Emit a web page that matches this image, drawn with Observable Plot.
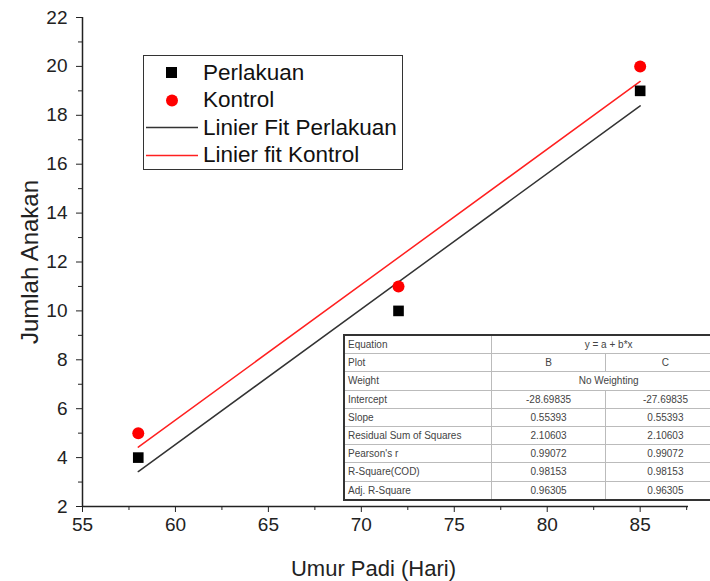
<!DOCTYPE html>
<html><head><meta charset="utf-8">
<script src="https://cdn.jsdelivr.net/npm/d3@7"></script>
<script src="https://cdn.jsdelivr.net/npm/@observablehq/plot@0.6"></script>
<style>
body{margin:0;background:#fff;font-family:"Liberation Sans",Arial,sans-serif;}
#wrap{position:relative;width:710px;height:581px;overflow:hidden;}
#legend{position:absolute;left:143px;top:55px;width:258px;height:113px;border:1.5px solid #333;background:#fff;}
.lrow{position:absolute;left:0;height:27px;display:flex;align-items:center;font-size:22.5px;color:#111;white-space:nowrap;}
.lrow svg{width:58px;height:27px;display:block;flex:none;}
.lrow span{margin-left:1px;}
#tbl{position:absolute;left:343px;top:334px;width:384px;border-collapse:collapse;border:2px solid #333;background:#fff;font-size:10px;color:#444;table-layout:fixed;}
#tbl td{border:1px solid #bbb;height:17.2px;padding:0 3px;white-space:nowrap;line-height:17px;overflow:hidden;}
#tbl td.c{text-align:center;}
</style></head>
<body><div id="wrap"></div>
<script>
const ageDays = [58, 72, 85];
const perlakuan = [4, 10, 19];
const kontrol = [5, 11, 20];
const seriesNames = ["Perlakuan", "Kontrol", "Linier Fit Perlakuan", "Linier fit Kontrol"];
const xTicks = [55, 60, 65, 70, 75, 80, 85];
const xMinor = [57.5, 62.5, 67.5, 72.5, 77.5, 82.5, 87.5];
const yTicks = [2, 4, 6, 8, 10, 12, 14, 16, 18, 20, 22];
const yMinor = [3, 5, 7, 9, 11, 13, 15, 17, 19, 21];
const xLabel = "Umur Padi (Hari)";
const yLabel = "Jumlah Anakan";
const tableRows = [
  ["Equation", "y = a + b*x", null],
  ["Plot", "B", "C"],
  ["Weight", "No Weighting", null],
  ["Intercept", "-28.69835", "-27.69835"],
  ["Slope", "0.55393", "0.55393"],
  ["Residual Sum of Squares", "2.10603", "2.10603"],
  ["Pearson's r", "0.99072", "0.99072"],
  ["R-Square(COD)", "0.98153", "0.98153"],
  ["Adj. R-Square", "0.96305", "0.96305"]
];

const pts = ageDays.flatMap((d, i) => [
  {x: d, y: perlakuan[i], s: seriesNames[0]},
  {x: d, y: kontrol[i], s: seriesNames[1]}
]);
const P = pts.filter(d => d.s === seriesNames[0]);
const K = pts.filter(d => d.s === seriesNames[1]);
const font = "'Liberation Sans', Arial, sans-serif";

const chart = Plot.plot({
  width: 710, height: 581,
  marginLeft: 82, marginTop: 17, marginBottom: 75, marginRight: 22,
  style: {fontFamily: font, fontSize: "19px", color: "#111", background: "#fff"},
  x: {domain: [55, 87.6]},
  y: {domain: [2, 22]},
  marks: [
    Plot.axisX({ticks: xTicks, tickSize: 6, tickPadding: 5, label: null, stroke: "#222", fill: "#222"}),
    Plot.axisX({ticks: xMinor, tickSize: 4, tickFormat: () => "", label: null, stroke: "#222"}),
    Plot.axisY({ticks: yTicks, tickSize: 6, tickPadding: 9, label: null, stroke: "#222", fill: "#222"}),
    Plot.axisY({ticks: yMinor, tickSize: 4, tickFormat: () => "", label: null, stroke: "#222"}),
    Plot.ruleX([55], {stroke: "#222", strokeWidth: 1.5}),
    Plot.ruleY([2], {stroke: "#222", strokeWidth: 1.5}),
    Plot.linearRegressionY(P, {x: "x", y: "y", stroke: "#333", strokeWidth: 1.5, ci: 0}),
    Plot.linearRegressionY(K, {x: "x", y: "y", stroke: "#ff2020", strokeWidth: 1.5, ci: 0}),
    Plot.dot(P, {x: "x", y: "y", symbol: "square", r: 6, fill: "#000"}),
    Plot.dot(K, {x: "x", y: "y", symbol: "circle", r: 6, fill: "#ff0000"}),
    Plot.text([yLabel], {frameAnchor: "left", textAnchor: "middle", lineAnchor: "middle", dx: -52, rotate: -90, fontSize: 24, fill: "#222"}),
    Plot.text([xLabel], {frameAnchor: "bottom", textAnchor: "middle", lineAnchor: "middle", dy: 62, dx: -12, fontSize: 22, fill: "#222"})
  ]
});
const wrap = document.getElementById("wrap");
wrap.appendChild(chart);

// Legend
const leg = document.createElement("div");
leg.id = "legend";
const swatches = [
  '<rect x="22" y="8" width="11" height="11" fill="#000"/>',
  '<circle cx="28" cy="13.5" r="6" fill="#ff0000"/>',
  '<line x1="2" x2="54" y1="13.5" y2="13.5" stroke="#333" stroke-width="1.5"/>',
  '<line x1="2" x2="54" y1="13.5" y2="13.5" stroke="#ff2020" stroke-width="1.5"/>'
];
seriesNames.forEach((n, i) => {
  const r = document.createElement("div");
  r.className = "lrow";
  r.style.top = (3 + i * 27.5) + "px";
  r.innerHTML = `<svg viewBox="0 0 58 27">${swatches[i]}</svg><span>${n}</span>`;
  leg.appendChild(r);
});
wrap.appendChild(leg);

// Stats table
const t = document.createElement("table");
t.id = "tbl";
const cg = document.createElement("colgroup");
[147, 113, 120].forEach(w => { const c = document.createElement("col"); c.style.width = w + "px"; cg.appendChild(c); });
t.appendChild(cg);
tableRows.forEach(row => {
  const tr = document.createElement("tr");
  const td0 = document.createElement("td"); td0.textContent = row[0]; tr.appendChild(td0);
  if (row[2] === null) {
    const td = document.createElement("td"); td.colSpan = 2; td.className = "c"; td.textContent = row[1]; tr.appendChild(td);
  } else {
    [row[1], row[2]].forEach(v => { const td = document.createElement("td"); td.className = "c"; td.textContent = v; tr.appendChild(td); });
  }
  t.appendChild(tr);
});
wrap.appendChild(t);
</script></body></html>
